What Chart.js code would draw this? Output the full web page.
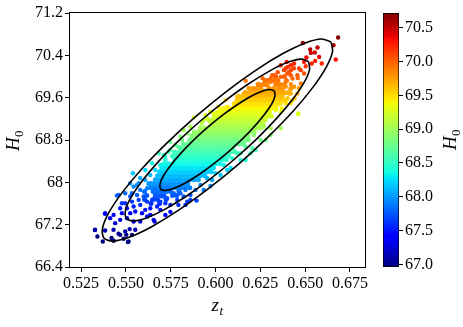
<!DOCTYPE html>
<html>
<head>
<meta charset="utf-8">
<script src="https://cdn.jsdelivr.net/npm/chart.js@4.4.1/dist/chart.umd.min.js"></script>
<style>
  html, body { margin: 0; padding: 0; background: #fff; }
  #wrap { position: relative; width: 463px; height: 327px; }
  #wrap canvas { position: absolute; left: 0; top: 0; }
</style>
</head>
<body>
<div id="wrap">
  <canvas id="main" width="463" height="327"></canvas>
  <canvas id="cbar" width="463" height="327"></canvas>
</div>
<script>
// axis ticks
const xTicks = [0.525, 0.55, 0.575, 0.6, 0.625, 0.65, 0.675];
const yTicks = [66.4, 67.2, 68, 68.8, 69.6, 70.4, 71.2];
const yTickLabels = ['66.4', '67.2', '68', '68.8', '69.6', '70.4', '71.2'];
const cbTicks = [67.0, 67.5, 68.0, 68.5, 69.0, 69.5, 70.0, 70.5];
const cbMin = 66.96;
const cbMax = 70.72;

// dense core of the sample: [H0, [z_t ...]]
const coreRows = [
  [67.60, [0.5640, 0.5688]],
  [67.675, [0.5604, 0.5652, 0.5676, 0.5724]],
  [67.75, [0.5616, 0.5664, 0.5688, 0.5712, 0.5760, 0.5784]],
  [67.825, [0.5604, 0.5652, 0.5676, 0.5700, 0.5724, 0.5748, 0.5796]],
  [67.90, [0.5640, 0.5664, 0.5688, 0.5712, 0.5736, 0.5760, 0.5784, 0.5808, 0.5832, 0.5856]],
  [67.975, [0.5628, 0.5652, 0.5676, 0.5700, 0.5724, 0.5748, 0.5772, 0.5796, 0.5820, 0.5844]],
  [68.05, [0.5664, 0.5688, 0.5712, 0.5736, 0.5760, 0.5784, 0.5808, 0.5832, 0.5856, 0.5880, 0.5904]],
  [68.125, [0.5676, 0.5700, 0.5724, 0.5748, 0.5772, 0.5796, 0.5820, 0.5844, 0.5868, 0.5892, 0.5916, 0.5940]],
  [68.20, [0.5688, 0.5712, 0.5736, 0.5760, 0.5784, 0.5808, 0.5832, 0.5856, 0.5880, 0.5904, 0.5928, 0.5952, 0.5976]],
  [68.275, [0.5700, 0.5724, 0.5748, 0.5772, 0.5796, 0.5820, 0.5844, 0.5868, 0.5892, 0.5916, 0.5940, 0.5964, 0.5988]],
  [68.35, [0.5712, 0.5736, 0.5760, 0.5784, 0.5808, 0.5832, 0.5856, 0.5880, 0.5904, 0.5928, 0.5952, 0.5976, 0.6000, 0.6024]],
  [68.425, [0.5772, 0.5796, 0.5820, 0.5844, 0.5868, 0.5892, 0.5916, 0.5940, 0.5964, 0.5988, 0.6012, 0.6036, 0.6060]],
  [68.50, [0.5760, 0.5784, 0.5808, 0.5832, 0.5856, 0.5880, 0.5904, 0.5928, 0.5952, 0.5976, 0.6000, 0.6024, 0.6048, 0.6072]],
  [68.575, [0.5772, 0.5796, 0.5820, 0.5844, 0.5868, 0.5892, 0.5916, 0.5940, 0.5964, 0.5988, 0.6012, 0.6036, 0.6060, 0.6084, 0.6108]],
  [68.65, [0.5808, 0.5832, 0.5856, 0.5880, 0.5904, 0.5928, 0.5952, 0.5976, 0.6000, 0.6024, 0.6048, 0.6072, 0.6096]],
  [68.725, [0.5820, 0.5844, 0.5868, 0.5892, 0.5916, 0.5940, 0.5964, 0.5988, 0.6012, 0.6036, 0.6060, 0.6084, 0.6108, 0.6132, 0.6156]],
  [68.80, [0.5856, 0.5880, 0.5904, 0.5928, 0.5952, 0.5976, 0.6000, 0.6024, 0.6048, 0.6072, 0.6096, 0.6120, 0.6144, 0.6168]],
  [68.875, [0.5868, 0.5892, 0.5916, 0.5940, 0.5964, 0.5988, 0.6012, 0.6036, 0.6060, 0.6084, 0.6108, 0.6132, 0.6156, 0.6180]],
  [68.95, [0.5880, 0.5904, 0.5928, 0.5952, 0.5976, 0.6000, 0.6024, 0.6048, 0.6072, 0.6096, 0.6120, 0.6144, 0.6168, 0.6192, 0.6216]],
  [69.025, [0.5916, 0.5940, 0.5964, 0.5988, 0.6012, 0.6036, 0.6060, 0.6084, 0.6108, 0.6132, 0.6156, 0.6180, 0.6204, 0.6228, 0.6252]],
  [69.10, [0.5976, 0.6000, 0.6024, 0.6048, 0.6072, 0.6096, 0.6120, 0.6144, 0.6168, 0.6192, 0.6216, 0.6240, 0.6264]],
  [69.175, [0.5964, 0.5988, 0.6012, 0.6036, 0.6060, 0.6084, 0.6108, 0.6132, 0.6156, 0.6180, 0.6204, 0.6228, 0.6252, 0.6276]],
  [69.25, [0.6000, 0.6024, 0.6048, 0.6072, 0.6096, 0.6120, 0.6144, 0.6168, 0.6192, 0.6216, 0.6240, 0.6264, 0.6288, 0.6312]],
  [69.325, [0.6012, 0.6036, 0.6060, 0.6084, 0.6108, 0.6132, 0.6156, 0.6180, 0.6204, 0.6228, 0.6252, 0.6276, 0.6300]],
  [69.40, [0.6048, 0.6072, 0.6096, 0.6120, 0.6144, 0.6168, 0.6192, 0.6216, 0.6240, 0.6264, 0.6288, 0.6312, 0.6336]],
  [69.475, [0.6108, 0.6132, 0.6156, 0.6180, 0.6204, 0.6228, 0.6252, 0.6276, 0.6300, 0.6324, 0.6348]],
  [69.55, [0.6120, 0.6144, 0.6168, 0.6192, 0.6216, 0.6240, 0.6264, 0.6288, 0.6312, 0.6336, 0.6360, 0.6384]],
  [69.625, [0.6132, 0.6156, 0.6180, 0.6204, 0.6228, 0.6252, 0.6276, 0.6300, 0.6324, 0.6348, 0.6372]],
  [69.70, [0.6168, 0.6192, 0.6216, 0.6240, 0.6264, 0.6288, 0.6312, 0.6336, 0.6360, 0.6384, 0.6408]],
  [69.775, [0.6204, 0.6228, 0.6252, 0.6300, 0.6324, 0.6348, 0.6372, 0.6420]],
  [69.85, [0.6240, 0.6264, 0.6288, 0.6336, 0.6360, 0.6384]],
  [69.925, [0.6276, 0.6324, 0.6348, 0.6396]],
  [70.00, [0.6336, 0.6384]]
];

// scattered samples outside the core: [z_t, H0]
const loosePoints = [
  [0.6684, 70.736], [0.6487, 70.634], [0.6569, 70.548], [0.6658, 70.591], [0.6532, 70.446], [0.6578, 70.370],
  [0.6537, 70.246], [0.6671, 70.321], [0.6593, 70.246], [0.6507, 70.359], [0.6528, 70.510], [0.6554, 70.453],
  [0.6494, 70.276], [0.6556, 70.295],
  [0.6397, 70.276], [0.6438, 70.246], [0.6466, 70.152], [0.6503, 70.195], [0.6420, 70.120], [0.6382, 70.120],
  [0.6476, 70.120], [0.6401, 70.057], [0.6457, 70.025], [0.6494, 70.057], [0.6429, 69.963], [0.6364, 69.993],
  [0.6326, 70.025], [0.6392, 69.899], [0.6476, 69.869], [0.6345, 69.869], [0.6308, 69.899], [0.6438, 69.805],
  [0.6373, 69.775], [0.6280, 69.837], [0.6410, 69.711], [0.6326, 69.711], [0.6457, 69.680], [0.6364, 69.616],
  [0.6429, 69.554], [0.6289, 69.680], [0.6463, 69.290],
  [0.6404, 70.182], [0.6420, 70.025], [0.6317, 70.025], [0.6289, 69.931], [0.6392, 69.805], [0.6420, 69.680],
  [0.6373, 69.648], [0.6252, 69.837], [0.6214, 69.775], [0.6270, 69.729], [0.6168, 69.918], [0.6364, 69.492],
  [0.6397, 69.567], [0.6460, 69.303], [0.6364, 69.020], [0.6298, 69.428], [0.6336, 69.365], [0.6289, 69.240],
  [0.6252, 69.145], [0.6270, 69.051], [0.6214, 68.894], [0.6186, 68.800], [0.6168, 68.674], [0.6121, 68.549],
  [0.6158, 69.680], [0.6121, 69.616], [0.6102, 69.492], [0.6065, 69.428], [0.6028, 69.365], [0.6056, 69.554],
  [0.5990, 69.240], [0.5953, 69.209], [0.5925, 69.115], [0.5879, 69.228], [0.5944, 69.271], [0.5972, 69.334],
  [0.5934, 69.177], [0.5845, 68.926], [0.5776, 68.705], [0.5813, 68.800], [0.5739, 68.579], [0.5711, 68.517],
  [0.5683, 68.549], [0.5539, 68.172], [0.5646, 68.360], [0.5608, 68.234], [0.5562, 67.951], [0.5534, 67.795],
  [0.5748, 68.768], [0.5990, 69.303], [0.5860, 69.051], [0.5822, 68.988], [0.5804, 68.862], [0.5748, 68.611],
  [0.5720, 68.485], [0.5972, 69.177], [0.6140, 69.554], [0.6177, 69.616], [0.6214, 69.680], [0.6018, 69.428],
  [0.5459, 67.762], [0.5384, 67.418], [0.5412, 67.323], [0.5328, 67.103], [0.5341, 66.977], [0.5384, 67.090],
  [0.5371, 66.883], [0.5431, 66.896], [0.5420, 66.947], [0.5468, 67.008], [0.5515, 66.883], [0.5496, 67.071],
  [0.5552, 67.103], [0.5534, 67.008], [0.5440, 67.229], [0.5468, 67.291], [0.5431, 67.385], [0.5478, 67.418],
  [0.5506, 67.323], [0.5543, 67.260], [0.5580, 67.260], [0.5524, 67.418], [0.5552, 67.448], [0.5590, 67.418],
  [0.5618, 67.354], [0.5655, 67.291], [0.5608, 67.480], [0.5636, 67.511], [0.5674, 67.542], [0.5580, 67.574],
  [0.5543, 67.542], [0.5506, 67.511], [0.5468, 67.511], [0.5496, 67.606], [0.5534, 67.636], [0.5571, 67.668],
  [0.5618, 67.636], [0.5646, 67.668], [0.5692, 67.636], [0.5720, 67.606], [0.5748, 67.574], [0.5599, 67.731],
  [0.5562, 67.762], [0.5524, 67.731], [0.5496, 67.795], [0.5664, 67.762], [0.5702, 67.731], [0.5543, 67.919],
  [0.5580, 67.857], [0.5618, 67.889], [0.5524, 67.983], [0.5571, 67.983], [0.5636, 67.983], [0.5664, 67.857],
  [0.5692, 67.919], [0.5730, 67.857], [0.5767, 67.795], [0.5730, 67.701], [0.5786, 67.668],
  [0.5972, 67.932], [0.5860, 67.668], [0.5842, 67.636], [0.5822, 67.731], [0.5804, 67.795], [0.5832, 67.857],
  [0.5981, 68.045], [0.6000, 68.172], [0.5972, 68.202], [0.6196, 68.549], [0.6205, 68.643], [0.6140, 68.549],
  [0.6093, 68.455], [0.6046, 68.328], [0.5953, 68.078], [0.5916, 67.951], [0.5888, 67.857], [0.5934, 67.857],
  [0.5894, 67.655], [0.5660, 67.260], [0.5521, 67.116], [0.5502, 67.008], [0.5487, 66.933], [0.5459, 67.028],
  [0.5431, 67.103], [0.5511, 66.871], [0.5327, 67.097], [0.5383, 67.404], [0.5450, 67.749], [0.5478, 67.606],
  [0.6252, 68.800], [0.6308, 69.020], [0.6364, 69.333], [0.6140, 68.422], [0.6065, 68.234], [0.6410, 69.680],
  [0.6392, 69.492],
  [0.6364, 70.214], [0.6420, 70.214], [0.6392, 70.157], [0.6437, 70.157], [0.6347, 70.082], [0.6409, 70.082],
  [0.6263, 69.969], [0.6308, 69.969], [0.6459, 69.969], [0.6235, 69.856], [0.6420, 69.856], [0.6185, 69.780],
  [0.6297, 69.780], [0.6465, 69.780], [0.6241, 69.686], [0.6347, 69.686], [0.6392, 69.686], [0.6196, 69.592],
  [0.6403, 69.592], [0.6442, 69.592], [0.6341, 69.497], [0.6420, 69.497], [0.6319, 69.403], [0.6369, 69.403],
  [0.5692, 67.480], [0.5748, 67.442], [0.5793, 67.574], [0.5636, 67.385], [0.5720, 67.385], [0.5832, 67.574],
  [0.5692, 68.328], [0.5664, 68.234], [0.5636, 68.140], [0.5608, 68.045], [0.5720, 68.422], [0.5793, 68.668],
  [0.5580, 68.083],
  [0.6028, 68.140], [0.6084, 68.272], [0.6168, 68.422], [0.6224, 68.611], [0.6280, 68.800], [0.6308, 68.894],
  [0.5860, 67.762]
];

// confidence contours: [z_t, H0]
const sigma1 = [
  [0.6328, 69.728], [0.6332, 69.637], [0.6315, 69.490], [0.6276, 69.295], [0.6220, 69.067], [0.6150, 68.820],
  [0.6070, 68.572], [0.5986, 68.340], [0.5904, 68.139], [0.5829, 67.983], [0.5766, 67.883], [0.5720, 67.845],
  [0.5694, 67.872], [0.5690, 67.963], [0.5707, 68.110], [0.5746, 68.305], [0.5802, 68.533], [0.5872, 68.780],
  [0.5952, 69.028], [0.6036, 69.260], [0.6119, 69.461], [0.6193, 69.617], [0.6256, 69.717], [0.6302, 69.755],
  [0.6328, 69.728]
];
const sigma2 = [
  [0.6518, 70.285], [0.6525, 70.140], [0.6497, 69.903], [0.6436, 69.592], [0.6346, 69.227], [0.6233, 68.832],
  [0.6105, 68.436], [0.5971, 68.064], [0.5839, 67.742], [0.5719, 67.493], [0.5619, 67.332], [0.5546, 67.272],
  [0.5504, 67.316], [0.5497, 67.460], [0.5525, 67.697], [0.5586, 68.008], [0.5676, 68.373], [0.5789, 68.768],
  [0.5917, 69.164], [0.6052, 69.536], [0.6183, 69.858], [0.6303, 70.107], [0.6403, 70.268], [0.6476, 70.328],
  [0.6518, 70.285]
];
const sigma3 = [
  [0.6644, 70.656], [0.6653, 70.475], [0.6618, 70.179], [0.6542, 69.790], [0.6430, 69.333], [0.6288, 68.840],
  [0.6129, 68.345], [0.5960, 67.880], [0.5796, 67.478], [0.5646, 67.166], [0.5521, 66.965], [0.5430, 66.890],
  [0.5378, 66.944], [0.5369, 67.125], [0.5404, 67.421], [0.5480, 67.810], [0.5592, 68.267], [0.5734, 68.760],
  [0.5894, 69.255], [0.6062, 69.720], [0.6226, 70.122], [0.6376, 70.434], [0.6501, 70.635], [0.6592, 70.710],
  [0.6644, 70.656]
];

// matplotlib "jet" colormap anchors
const jetR = [[0, 0], [0.35, 0], [0.66, 1], [0.89, 1], [1, 0.5]];
const jetG = [[0, 0], [0.125, 0], [0.375, 1], [0.64, 1], [0.91, 0], [1, 0]];
const jetB = [[0, 0.5], [0.11, 1], [0.34, 1], [0.65, 0], [1, 0]];

function interp(tbl, t) {
  for (let i = 1; i < tbl.length; i++) {
    if (t <= tbl[i][0]) {
      const [t0, v0] = tbl[i - 1];
      const [t1, v1] = tbl[i];
      return v0 + (v1 - v0) * (t - t0) / (t1 - t0);
    }
  }
  return tbl[tbl.length - 1][1];
}

function jet(t) {
  t = Math.max(0, Math.min(1, t));
  const r = Math.round(255 * interp(jetR, t));
  const g = Math.round(255 * interp(jetG, t));
  const b = Math.round(255 * interp(jetB, t));
  return `rgb(${r},${g},${b})`;
}

function colorFor(h) {
  return jet((h - cbMin) / (cbMax - cbMin));
}

const tickFont = { family: '"Liberation Serif", serif', size: 16 };
const labelFamily = '"Liberation Serif", serif';

const corePoints = coreRows.flatMap(([h, zs]) => zs.map(z => ({ x: z, y: h })));
const outerPoints = loosePoints.map(([z, h]) => ({ x: z, y: h }));

function contour(arr) {
  return {
    data: arr.map(([z, h]) => ({ x: z, y: h })),
    showLine: true,
    borderColor: '#000',
    borderWidth: 1.6,
    pointRadius: 0,
    tension: 0.3,
    fill: false,
    order: 0,
  };
}

function samples(data, radius, order) {
  return {
    data: data,
    pointRadius: radius,
    pointBorderWidth: 0,
    pointBackgroundColor: ctx => colorFor(ctx.raw ? ctx.raw.y : cbMin),
    showLine: false,
    order: order,
  };
}

// math-style label: italic base letter with a smaller subscript
function drawLabel(ctx, base, sub, subItalic, x, y, rot) {
  ctx.save();
  ctx.translate(x, y);
  ctx.rotate(rot);
  ctx.fillStyle = '#000';
  ctx.textBaseline = 'alphabetic';
  ctx.font = 'italic 19px ' + labelFamily;
  const wb = ctx.measureText(base).width;
  const subFont = (subItalic ? 'italic ' : '') + '13px ' + labelFamily;
  ctx.font = subFont;
  const ws = ctx.measureText(sub).width;
  const x0 = -(wb + ws) / 2;
  ctx.font = 'italic 19px ' + labelFamily;
  ctx.fillText(base, x0, 0);
  ctx.font = subFont;
  ctx.fillText(sub, x0 + wb + 0.5, 3.5);
  ctx.restore();
}

const axesFrame = {
  id: 'axesFrame',
  afterDatasetsDraw(chart) {
    const { ctx, chartArea: a } = chart;
    ctx.save();
    ctx.strokeStyle = '#000';
    ctx.lineWidth = 1;
    ctx.strokeRect(a.left - 0.5, a.top - 0.5, a.right - a.left + 1, a.bottom - a.top + 1);
    ctx.restore();
  },
  afterDraw(chart) {
    const ctx = chart.ctx;
    drawLabel(ctx, 'z', 't', true, 217, 311, 0);
    drawLabel(ctx, 'H', '0', false, 19, 141, -Math.PI / 2);
    drawLabel(ctx, 'H', '0', false, 456, 140, -Math.PI / 2);
  }
};

new Chart(document.getElementById('main'), {
  type: 'scatter',
  data: {
    datasets: [
      contour(sigma1),
      contour(sigma2),
      contour(sigma3),
      samples(outerPoints, 2.2, 1),
      samples(corePoints, 2.5, 2),
    ],
  },
  options: {
    responsive: false,
    animation: false,
    events: [],
    layout: { padding: { left: 0, right: 98, top: 13, bottom: 0 } },
    plugins: { legend: { display: false }, tooltip: { enabled: false } },
    scales: {
      x: {
        type: 'linear',
        min: 0.5188,
        max: 0.6834,
        afterBuildTicks: scale => { scale.ticks = xTicks.map(v => ({ value: v })); },
        afterFit: scale => { scale.height = 60; },
        ticks: {
          callback: v => v.toFixed(3),
          font: tickFont,
          color: '#000',
          autoSkip: false,
          maxRotation: 0,
          padding: 2,
        },
        grid: { drawOnChartArea: false, color: '#000', tickLength: 5, lineWidth: 1 },
        border: { display: false },
      },
      y: {
        type: 'linear',
        min: 66.4,
        max: 71.2,
        afterBuildTicks: scale => { scale.ticks = yTicks.map(v => ({ value: v })); },
        afterFit: scale => { scale.width = 70; },
        ticks: {
          callback: v => yTickLabels[yTicks.indexOf(v)],
          font: tickFont,
          color: '#000',
          autoSkip: false,
          padding: 2,
        },
        grid: { drawOnChartArea: false, color: '#000', tickLength: 5, lineWidth: 1 },
        border: { display: false },
      },
    },
  },
  plugins: [axesFrame],
});

// colour bar: one floating bar spanning the colour range, painted with the jet gradient
new Chart(document.getElementById('cbar'), {
  type: 'bar',
  data: {
    labels: [''],
    datasets: [{
      data: [[cbMin, cbMax]],
      backgroundColor: ctx => {
        const a = ctx.chart.chartArea;
        if (!a) return colorFor(cbMin);
        const g = ctx.chart.ctx.createLinearGradient(0, a.bottom, 0, a.top);
        const stops = [0, 0.11, 0.125, 0.34, 0.35, 0.375, 0.64, 0.65, 0.66, 0.89, 0.91, 1];
        stops.forEach(s => g.addColorStop(s, jet(s)));
        return g;
      },
      borderColor: '#000',
      borderWidth: 1,
      borderSkipped: false,
      barPercentage: 1,
      categoryPercentage: 1,
    }],
  },
  options: {
    responsive: false,
    animation: false,
    events: [],
    layout: { padding: { left: 383, right: 0, top: 13, bottom: 60 } },
    plugins: { legend: { display: false }, tooltip: { enabled: false } },
    scales: {
      x: { display: false },
      y: {
        position: 'right',
        min: cbMin,
        max: cbMax,
        afterBuildTicks: scale => { scale.ticks = cbTicks.map(v => ({ value: v })); },
        afterFit: scale => { scale.width = 64; },
        ticks: {
          callback: v => v.toFixed(1),
          font: tickFont,
          color: '#000',
          autoSkip: false,
          padding: 2,
        },
        grid: { drawOnChartArea: false, color: '#000', tickLength: 4, lineWidth: 1 },
        border: { display: false },
      },
    },
  },
});
</script>
</body>
</html>
